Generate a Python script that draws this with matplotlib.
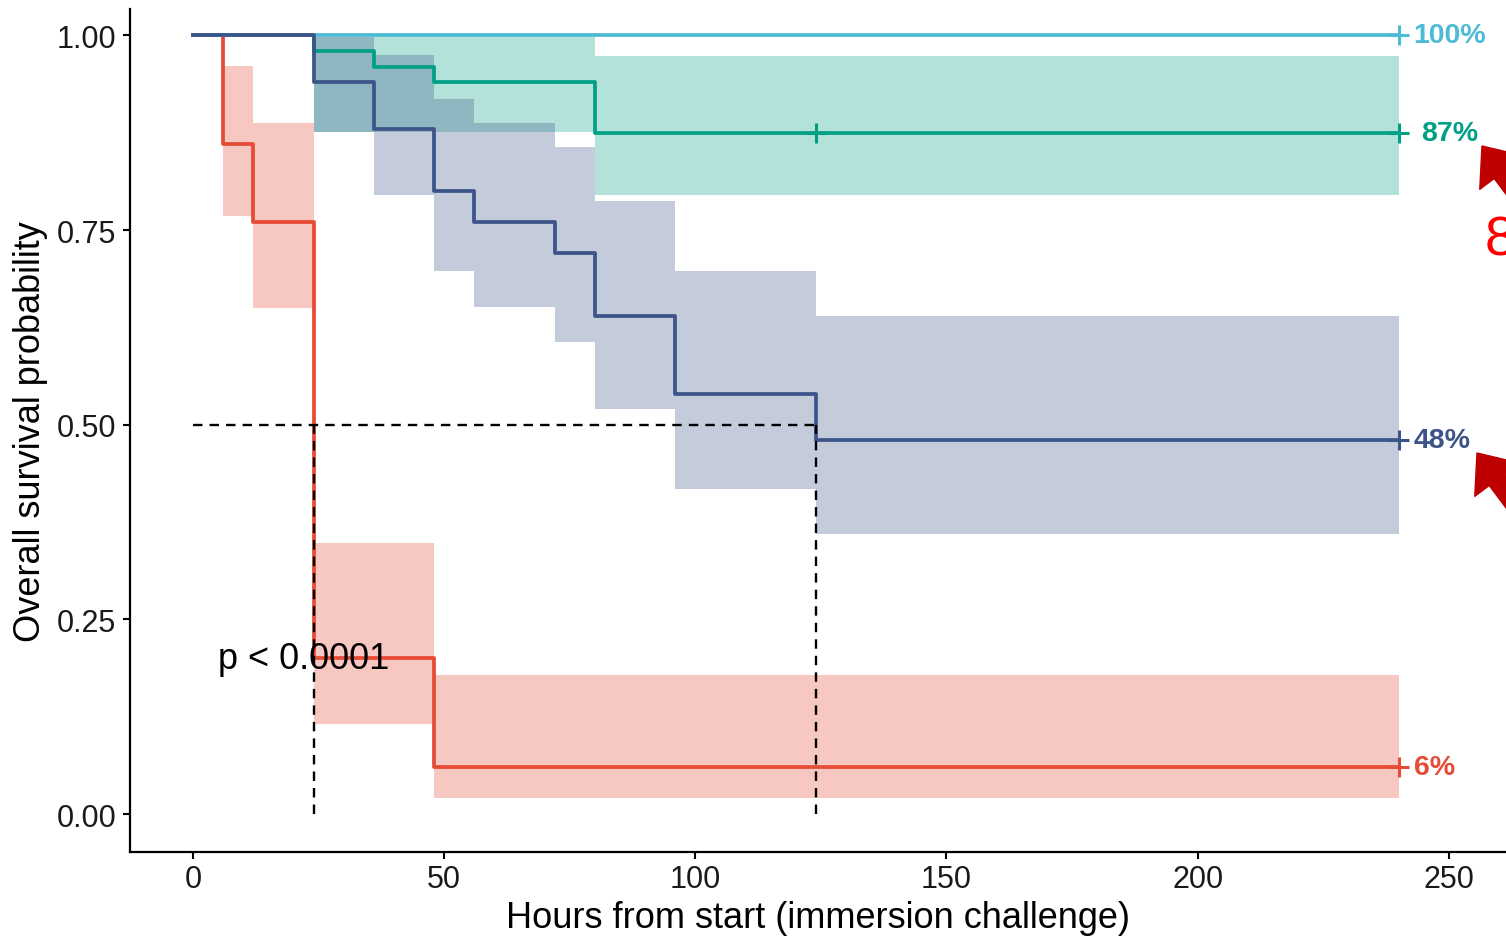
import numpy as np
from matplotlib import pyplot as plt

plt.rcParams['font.family'] = ['Liberation Sans', 'DejaVu Sans']

#%% DATOS (Kaplan-Meier, con IC 95%)

t_red = [0, 6, 12, 24, 48, 240]
s_red = [1.0, 0.86, 0.76, 0.20, 0.06, 0.06]
lo_red = [1.0, 0.768, 0.650, 0.116, 0.021, 0.021]
hi_red = [1.0, 0.961, 0.888, 0.348, 0.179, 0.179]

t_navy = [0, 24, 36, 48, 56, 72, 80, 96, 124, 240]
s_navy = [1.0, 0.94, 0.88, 0.80, 0.76, 0.72, 0.64, 0.54, 0.48, 0.48]
lo_navy = [1.0, 0.876, 0.795, 0.697, 0.651, 0.606, 0.520, 0.417, 0.360, 0.360]
hi_navy = [1.0, 0.998, 0.975, 0.918, 0.888, 0.857, 0.787, 0.697, 0.640, 0.640]

t_green = [0, 24, 36, 48, 80, 240]
s_green = [1.0, 0.98, 0.96, 0.94, 0.875, 0.875]
lo_green = [1.0, 0.876, 0.876, 0.876, 0.795, 0.795]
hi_green = [1.0, 0.998, 0.998, 0.998, 0.974, 0.974]

t_blue = [0, 240]
s_blue = [1.0, 1.0]

censor_green = [124]
labels_fin = ['6%', '87%', '100%', '48%']

c_red = '#E64B35'
c_navy = '#3C5488'
c_green = '#00A087'
c_blue = '#4DBBD5'

#%% FIGURA

fig = plt.figure(figsize=(15.06, 9.37), dpi=100)
ax = fig.add_axes([130/1506, 84/937, 1376/1506, 843/937])

for t, lo, hi, c in [(t_red, lo_red, hi_red, c_red),
                     (t_green, lo_green, hi_green, c_green),
                     (t_navy, lo_navy, hi_navy, c_navy)]:
    ax.fill_between(t, lo, hi, step='post', color=c, alpha=0.3, linewidth=0)

curvas = [(t_red, s_red, c_red), (t_green, s_green, c_green),
          (t_blue, s_blue, c_blue), (t_navy, s_navy, c_navy)]
for (t, s, c), lab in zip(curvas, labels_fin):
    ax.step(t, s, where='post', color=c, linewidth=2.7, zorder=3)
    ax.plot(t[-1], s[-1], '+', color=c, markersize=14, mew=2.2, zorder=3)
    dx = 4.5 if lab == '87%' else 3
    ax.text(t[-1] + dx, s[-1], lab, color=c, fontsize=20.5, fontweight='bold',
            va='center', ha='left')

ax.plot(censor_green, [s_green[-1]]*len(censor_green), '+', color=c_green,
        markersize=14, mew=2.2, zorder=3)

# mediana
ax.hlines(0.5, 0, 124, color='black', linestyle=(0, (4, 3)), linewidth=1.7, zorder=4)
ax.vlines([24, 124], 0, 0.5, color='black', linestyle=(0, (4, 3)), linewidth=1.7, zorder=4)

ax.text(5, 0.20, 'p < 0.0001', fontsize=26, va='center', ha='left', zorder=5)

ax.set_xlim(-12.54, 261.4)
ax.set_ylim(-0.0488, 1.034)
ax.set_xticks([0, 50, 100, 150, 200, 250])
ax.set_yticks([0, 0.25, 0.5, 0.75, 1.0])
ax.set_yticklabels(['0.00', '0.25', '0.50', '0.75', '1.00'])
ax.tick_params(labelsize=22, length=5, width=1.5, direction='out',
               colors='black', labelcolor='#1a1a1a')
ax.tick_params(axis='y', pad=5)
ax.tick_params(axis='x', pad=4)
for sp in ['top', 'right']:
    ax.spines[sp].set_visible(False)
for sp in ['left', 'bottom']:
    ax.spines[sp].set_linewidth(1.6)

ax.set_xlabel('Hours from start (immersion challenge)', fontsize=26, labelpad=4)
ax.set_ylabel('Overall survival probability', fontsize=26, labelpad=6)

# flechas y texto en el margen derecho
for tip in [(1482, 937-147), (1477, 937-454)]:
    tail = (tip[0] + 0.6*170, tip[1] - 0.8*170)
    ax.annotate('', xy=tip, xytext=tail, xycoords='figure pixels',
                textcoords='figure pixels', annotation_clip=False,
                arrowprops=dict(arrowstyle='simple,head_length=1.2,head_width=2.0,tail_width=0.7',
                                color='#BF0000', mutation_scale=20, shrinkA=0, shrinkB=0))
fig.text(1485/1506, 1 - 242/937, '8', color='#FF0000', fontsize=40,
         va='center', ha='left')

plt.savefig('out.png', dpi=100)
